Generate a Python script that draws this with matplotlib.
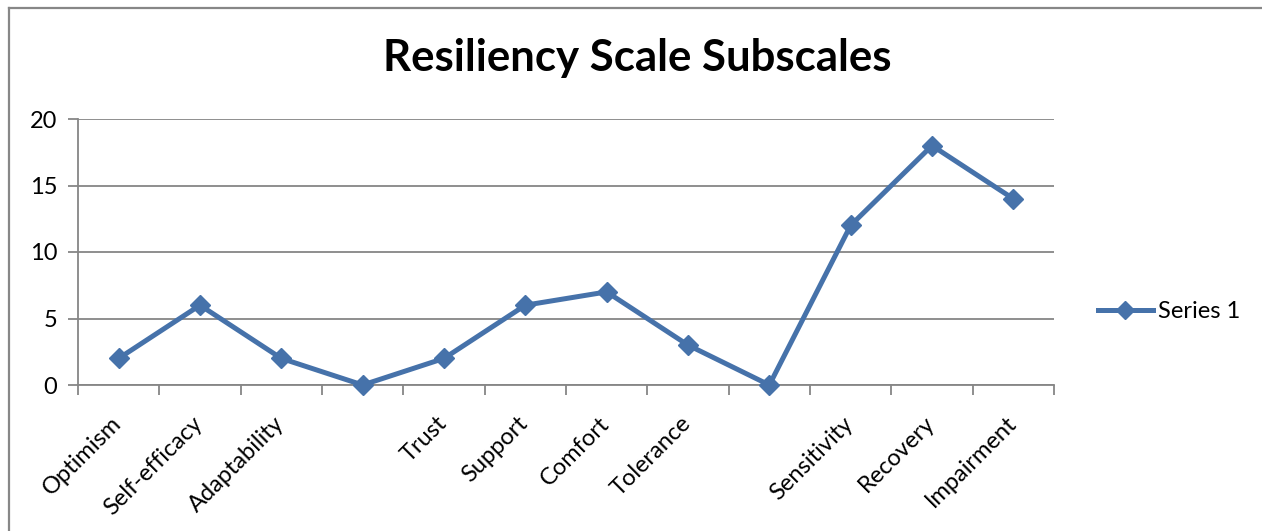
import matplotlib
matplotlib.use("Agg")
import matplotlib.pyplot as plt
from matplotlib.lines import Line2D
from matplotlib.transforms import ScaledTranslation

categories = ["Optimism", "Self-efficacy", "Adaptability", "", "Trust", "Support",
              "Comfort", "Tolerance", "", "Sensitivity", "Recovery", "Impairment"]
values = [2, 6, 2, 0, 2, 6, 7, 3, 0, 12, 18, 14]
series_name = "Series 1"
title = "Resiliency Scale Subscales"
yticks = [0, 5, 10, 15, 20]

plt.rcParams['font.family'] = ['Lato', 'DejaVu Sans']

W, H = 1262, 531
fig = plt.figure(figsize=(W / 100, H / 100), dpi=100)
ax = fig.add_axes([78 / W, 1 - 385 / H, (1054 - 78) / W, (385 - 119) / H])

gray = '#868686'
blue = '#4672AA'
x = list(range(len(categories)))
ax.plot(x, values, color=blue, lw=3.6, marker='D', markersize=10.5,
        markerfacecolor=blue, markeredgecolor=blue, label=series_name,
        solid_joinstyle='round', clip_on=False, zorder=3)

ax.set_xlim(-0.5, len(categories) - 0.5)
ax.set_ylim(0, 20)
ax.set_yticks(yticks)
ax.set_yticklabels([str(v) for v in yticks], fontsize=17)
ax.yaxis.grid(True, color=gray, lw=1.3)
ax.set_axisbelow(True)

ax.set_xticks([i + 0.5 for i in range(-1, len(categories))], minor=False)
ax.set_xticklabels([])
ax.set_xticks(x, minor=True)
ax.set_xticklabels(categories, minor=True, rotation=45, ha='right',
                   rotation_mode='anchor', fontsize=17)
ax.tick_params(axis='x', which='major', length=7, color=gray, width=1.3, direction='out')
ax.tick_params(axis='x', which='minor', length=0, pad=20)
ax.tick_params(axis='y', length=7, color=gray, width=1.3, pad=8)
offset = ScaledTranslation(-8 / 100, 0, fig.dpi_scale_trans)
for lbl in ax.get_xticklabels(minor=True):
    lbl.set_transform(lbl.get_transform() + offset)

for s in ['top', 'right']:
    ax.spines[s].set_visible(False)
for s in ['left', 'bottom']:
    ax.spines[s].set_color(gray)
    ax.spines[s].set_linewidth(1.3)

fig.text(0.505, 1 - 58 / H, title, ha='center', va='center', fontsize=31.5, fontweight='bold')

fig.legend(loc='center left', bbox_to_anchor=(1077 / W, 1 - 312 / H), frameon=False,
           fontsize=17, handlelength=2.3, handletextpad=0.25, markerscale=0.9)

border_x = 8.5 / W
border_y = 1 - 7.5 / H
fig.add_artist(Line2D([border_x, border_x], [-0.05, border_y], transform=fig.transFigure,
                      color='#878787', lw=1.6))
fig.add_artist(Line2D([border_x, 1.05], [border_y, border_y], transform=fig.transFigure,
                      color='#878787', lw=1.6))

fig.savefig("out.png", dpi=100)
